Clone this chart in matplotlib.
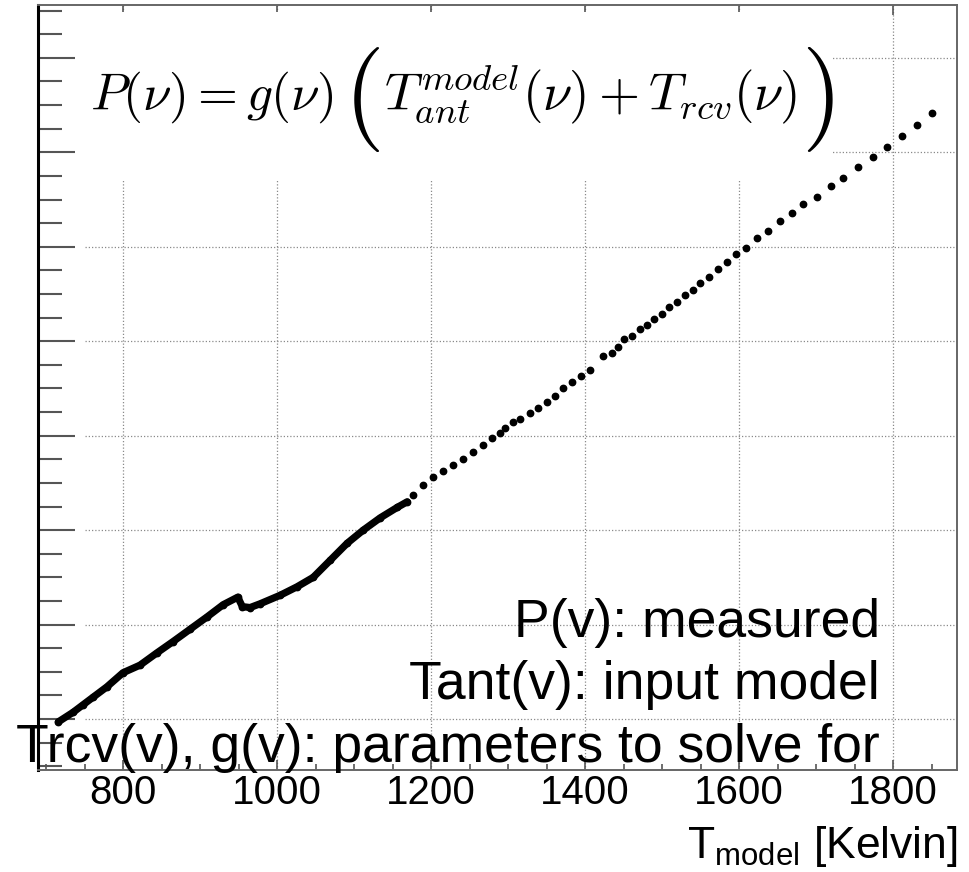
import matplotlib
matplotlib.use("Agg")
import matplotlib.pyplot as plt
from matplotlib.ticker import MultipleLocator, NullFormatter
from matplotlib.patches import Rectangle
import numpy as np

# ---- data (y in arbitrary units, one major grid step = 1) ----
t_model = [716, 735, 748, 761, 779, 800, 822, 844, 865, 887, 909, 930, 949, 955, 965, 978,
           1004, 1026, 1047, 1069, 1091, 1112, 1134, 1156, 1169,
           1177, 1190, 1203, 1216, 1229, 1242, 1255, 1268, 1279, 1290, 1296, 1307, 1316,
           1329, 1339, 1351, 1361, 1371, 1383, 1395, 1407, 1423, 1435, 1443, 1451, 1461,
           1471, 1481, 1490, 1500, 1509, 1520, 1530, 1540, 1549, 1561, 1573, 1584, 1596,
           1609, 1623, 1638, 1653, 1669, 1683, 1701, 1720, 1735, 1755, 1774, 1792, 1812,
           1831, 1851]
p_meas = [-0.03, 0.07, 0.15, 0.23, 0.34, 0.49, 0.57, 0.70, 0.82, 0.95, 1.08, 1.21, 1.29, 1.19,
          1.18, 1.22, 1.31, 1.40, 1.50, 1.68, 1.86, 2.00, 2.13, 2.24, 2.30,
          2.37, 2.48, 2.56, 2.63, 2.69, 2.75, 2.83, 2.90, 2.98, 3.03, 3.08, 3.14, 3.18,
          3.24, 3.29, 3.36, 3.42, 3.51, 3.57, 3.63, 3.70, 3.84, 3.88, 3.94, 4.02, 4.06,
          4.13, 4.17, 4.23, 4.29, 4.36, 4.42, 4.49, 4.54, 4.62, 4.68, 4.76, 4.84, 4.92,
          4.99, 5.09, 5.17, 5.27, 5.36, 5.45, 5.53, 5.64, 5.73, 5.85, 5.95, 6.06, 6.17,
          6.29, 6.42]
dense_end = 1170  # below this T the points are so dense they merge into a line

x_ticks = [800, 1000, 1200, 1400, 1600, 1800]
x_ticklabels = ["800", "1000", "1200", "1400", "1600", "1800"]

eq_left = r"$P(\nu) = g(\nu)$"
eq_inner = r"$T^{model}_{ant}(\nu) + T_{rcv}(\nu)$"
notes = ["P(v): measured", "Tant(v): input model", "Trcv(v), g(v): parameters to solve for"]
xlabel = r"T$_{\mathrm{model}}$ [Kelvin]"

# ---- style ----
plt.rcParams["font.family"] = ["Liberation Sans", "DejaVu Sans"]
plt.rcParams["mathtext.fontset"] = "custom"
plt.rcParams["mathtext.rm"] = "Liberation Sans"
plt.rcParams["mathtext.it"] = "Liberation Sans:italic"

W, H = 970, 872
fig = plt.figure(figsize=(W / 100, H / 100), dpi=100)
fig.patch.set_facecolor("white")
ax = fig.add_axes([38 / W, 1 - 770 / H, 919 / W, 765 / H])
ax.set_xlim(689.6, 1883)
ax.set_ylim(-0.54, 7.56)

# ticks
ax.set_xticks(x_ticks)
ax.set_xticklabels(x_ticklabels, fontsize=29)
ax.xaxis.set_minor_locator(MultipleLocator(50))
ax.yaxis.set_major_locator(MultipleLocator(1))
ax.yaxis.set_minor_locator(MultipleLocator(0.25))
ax.yaxis.set_major_formatter(NullFormatter())
ax.tick_params(axis="x", which="major", direction="in", length=7, width=1.2,
               color="#555555", top=True, pad=3, labelcolor="black")
ax.tick_params(axis="x", which="minor", direction="in", length=4.5, width=1.2,
               color="#555555", top=False)
ax.tick_params(axis="y", which="major", direction="in", length=26.6, width=1.5,
               color="#555555", labelleft=False)
ax.tick_params(axis="y", which="minor", direction="in", length=17.3, width=1.5,
               color="#555555")

for side in ["top", "right", "bottom"]:
    ax.spines[side].set_color("#666666")
    ax.spines[side].set_linewidth(1.4)
ax.spines["left"].set_color("black")
ax.spines["left"].set_linewidth(2.2)

# grid (dotted), horizontal lines start a little right of the left axis
grid_kw = dict(color="#8a8a8a", lw=0.9, ls=(0, (1, 1.6)), zorder=1)
for xv in x_ticks:
    ax.axvline(xv, **grid_kw)
for yv in range(0, 8):
    ax.axhline(yv, xmin=0.051, xmax=1.0, **grid_kw)

# white panel behind the equation
ax.add_patch(Rectangle((0.041, 0.771), 0.824, 0.22, transform=ax.transAxes,
                       facecolor="white", edgecolor="none", zorder=2))

# data
t = np.array(t_model)
p = np.array(p_meas)
m = t < dense_end
ax.plot(t[m], p[m], color="black", lw=5.2, solid_capstyle="round",
        solid_joinstyle="round", zorder=3)
ax.plot(t, p, ls="none", marker="o", ms=4.6, color="black", mec="black", zorder=3)

# equation (pieces so that the outer brackets can be tall)
eq_kw = dict(math_fontfamily="cm", zorder=5)
fig.text(90 / W, 1 - 110 / H, eq_left, fontsize=37, ha="left", va="baseline", **eq_kw)
fig.text(384 / W, 1 - 110 / H, eq_inner, fontsize=38, ha="left", va="baseline", **eq_kw)
fig.text(362 / W, 1 - 100 / H, r"$($", fontsize=76, ha="center", va="center", **eq_kw)
fig.text(817 / W, 1 - 100 / H, r"$)$", fontsize=76, ha="center", va="center", **eq_kw)

# notes
baselines = [637, 699, 762]
for s, yb in zip(notes, baselines):
    fig.text(880 / W, 1 - yb / H, s, fontsize=38.5, ha="right", va="baseline", zorder=5)

# x label
fig.text(958 / W, 1 - 858 / H, xlabel, fontsize=32, ha="right", va="baseline")

fig.savefig("out.png", dpi=100, facecolor="white")
